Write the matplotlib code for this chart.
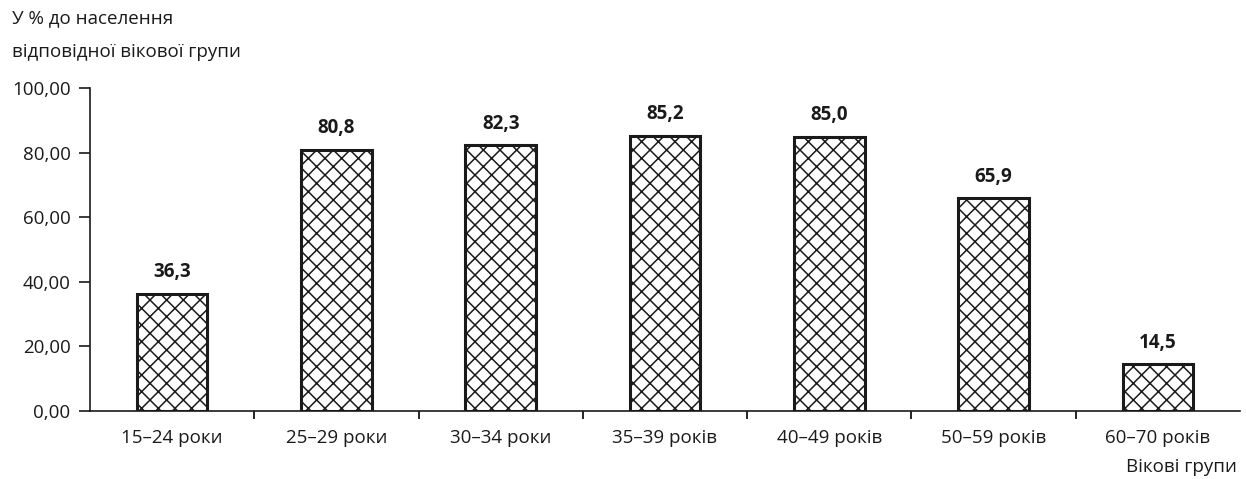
import matplotlib.pyplot as plt

plt.rcParams['font.family'] = ['Open Sans', 'DejaVu Sans']
plt.rcParams['hatch.linewidth'] = 1.1

categories = ['15–24 роки', '25–29 роки', '30–34 роки', '35–39 років',
              '40–49 років', '50–59 років', '60–70 років']
values = [36.3, 80.8, 82.3, 85.2, 85.0, 65.9, 14.5]
yticks = [0, 20, 40, 60, 80, 100]

fig = plt.figure(figsize=(12.46, 4.79), dpi=100)
ax = fig.add_axes([0.0722, 0.142, 0.923, 0.674])

x = list(range(len(categories)))
ax.bar(x, values, width=0.43, color='white', edgecolor='#1a1a1a',
       linewidth=2.2, hatch='xx')

for xi, v in zip(x, values):
    ax.text(xi, v + 3.6, f'{v:.1f}'.replace('.', ','), ha='center', va='bottom',
            fontsize=13.5, fontweight='bold', color='#1a1a1a')

ax.set_xlim(-0.5, len(categories) - 0.5)
ax.set_ylim(0, 100)
ax.set_yticks(yticks)
ax.set_yticklabels([f'{t:.2f}'.replace('.', ',') for t in yticks])

# category labels centred, ticks between categories
ax.set_xticks(x)
ax.set_xticklabels(categories)
ax.tick_params(axis='x', length=0, pad=13)
ax.set_xticks([i + 0.5 for i in range(len(categories) - 1)], minor=True)
ax.tick_params(axis='x', which='minor', length=6, width=1.2, direction='out')
ax.tick_params(axis='y', length=8, width=1.2, direction='out', pad=6)
ax.tick_params(labelsize=13.5, colors='#1a1a1a')

for s in ['top', 'right']:
    ax.spines[s].set_visible(False)
for s in ['left', 'bottom']:
    ax.spines[s].set_linewidth(1.2)
    ax.spines[s].set_color('#1a1a1a')

fig.text(0.01, 0.962, 'У % до населення', ha='left', va='center',
         fontsize=13.5, color='#1a1a1a')
fig.text(0.01, 0.891, 'відповідної вікової групи', ha='left', va='center',
         fontsize=13.5, color='#1a1a1a')
fig.text(0.993, 0.025, 'Вікові групи', ha='right', va='center',
         fontsize=13.5, color='#1a1a1a')

fig.savefig('out.png', dpi=100)
